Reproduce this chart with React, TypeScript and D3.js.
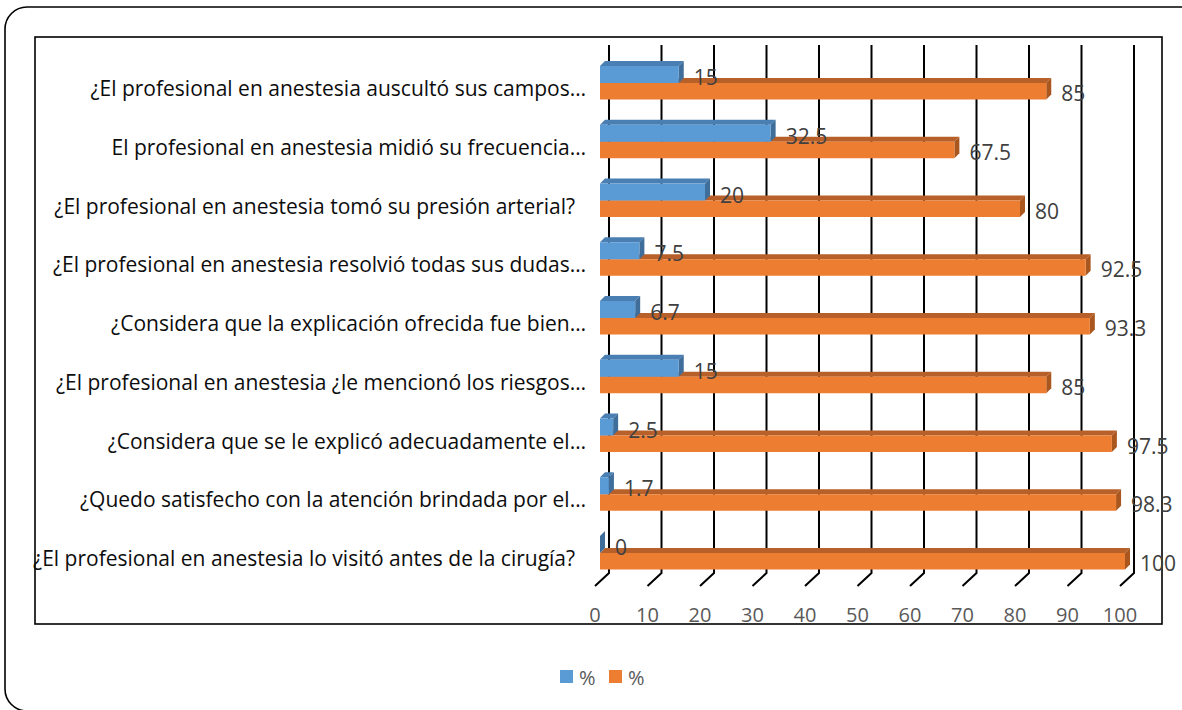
import React from "react";
import * as d3 from "d3";

const categories = [
  "¿El profesional en anestesia auscultó sus campos…",
  "El profesional en anestesia midió su frecuencia…",
  "¿El profesional en anestesia tomó su presión arterial?  ",
  "¿El profesional en anestesia resolvió todas sus dudas…",
  "¿Considera que la explicación ofrecida fue bien…",
  "¿El profesional en anestesia ¿le mencionó los riesgos…",
  "¿Considera que se le explicó adecuadamente el…",
  "¿Quedo satisfecho con la atención brindada por el…",
  "¿El profesional en anestesia lo visitó antes de la cirugía?  ",
];
const blueValues = [15, 32.5, 20, 7.5, 6.7, 15, 2.5, 1.7, 0];
const orangeValues = [85, 67.5, 80, 92.5, 93.3, 85, 97.5, 98.3, 100];
const ticks = [0, 10, 20, 30, 40, 50, 60, 70, 80, 90, 100];
const legendLabels = ["%", "%"];

const FONT = "'Open Sans', 'Noto Sans', sans-serif";

export default function App() {
  const x = d3.scaleLinear().domain([0, 100]).range([600, 1125]);
  const y = d3.scalePoint<string>().domain(categories).range([83, 553]);
  const dx = 5, dy = 5;
  const blueH = 17, orangeH = 16.5;

  const bar = (x0: number, x1: number, y0: number, h: number, front: string, top: string, side: string, key: string) => {
    const y1 = y0 + h;
    return (
      <g key={key}>
        <polygon points={`${x0},${y0} ${x0 + dx},${y0 - dy} ${x1 + dx},${y0 - dy} ${x1},${y0}`} fill={top} />
        <polygon points={`${x1},${y0} ${x1 + dx},${y0 - dy} ${x1 + dx},${y1 - dy} ${x1},${y1}`} fill={side} />
        <rect x={x0} y={y0} width={Math.max(0, x1 - x0)} height={h} fill={front} />
      </g>
    );
  };

  return (
    <svg width={1182} height={710} style={{ position: "absolute", left: 0, top: 0, background: "#fff" }} fontFamily={FONT}>
      <rect x={5} y={7} width={1200} height={704} rx={22} fill="#fff" stroke="#000" strokeWidth={1.6} />
      <rect x={35} y={37} width={1127} height={587} fill="none" stroke="#000" strokeWidth={1.6} />
      {/* gridlines */}
      {ticks.map((t) => {
        const xb = x(t) + 9;
        return (
          <path key={"g" + t} d={`M${xb},45 L${xb},573 L${xb - 14},586`} fill="none" stroke="#000" strokeWidth={2} />
        );
      })}
      {/* bars */}
      {categories.map((c, i) => {
        const b = y(c)!;
        return (
          <g key={"r" + i}>
            {bar(x(0), x(orangeValues[i]), b, orangeH, "#ED7D31", "#B8602A", "#A9561F", "o" + i)}
            {bar(x(0), x(blueValues[i]), b - blueH, blueH, "#5B9BD5", "#4A7FB3", "#3F6E9B", "b" + i)}
          </g>
        );
      })}
      {/* data labels */}
      {categories.map((c, i) => {
        const b = y(c)!;
        return (
          <g key={"l" + i} fill="#404040" fontSize={21}>
            <text x={x(blueValues[i]) + 15} y={b - 6} dominantBaseline="central">{blueValues[i]}</text>
            <text x={x(orangeValues[i]) + 15} y={b + 10} dominantBaseline="central">{orangeValues[i]}</text>
          </g>
        );
      })}
      {/* category labels */}
      {categories.map((c) => (
        <text key={"c" + c} x={586} y={y(c)! + 5} textAnchor="end" dominantBaseline="central" fontSize={21} fill="#0d0d0d" style={{ whiteSpace: "pre" }}>
          {c}
        </text>
      ))}
      {/* axis labels */}
      {ticks.map((t) => (
        <text key={"t" + t} x={x(t) - 5} y={614} textAnchor="middle" dominantBaseline="central" fontSize={20} fill="#595959">
          {t}
        </text>
      ))}
      {/* legend */}
      <rect x={560} y={670} width={13} height={13} fill="#5B9BD5" />
      <text x={579} y={677} dominantBaseline="central" fontSize={20} fill="#595959">{legendLabels[0]}</text>
      <rect x={609} y={670} width={13} height={13} fill="#ED7D31" />
      <text x={628} y={677} dominantBaseline="central" fontSize={20} fill="#595959">{legendLabels[1]}</text>
    </svg>
  );
}
